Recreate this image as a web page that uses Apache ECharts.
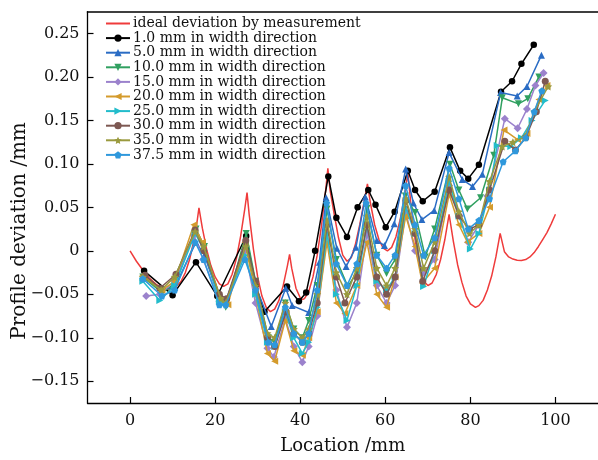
<!DOCTYPE html>
<html>
<head>
<meta charset="utf-8">
<script src="https://cdn.jsdelivr.net/npm/echarts@6/dist/echarts.min.js"></script>
<style>
  html, body { margin: 0; padding: 0; background: #fff; }
  #chart { width: 598px; height: 460px; }
</style>
</head>
<body>
<div id="chart"></div>
<script>
// Tick positions on both axes
const xTicks = [0, 20, 40, 60, 80, 100];
const yTicks = [-0.15, -0.10, -0.05, 0, 0.05, 0.10, 0.15, 0.20, 0.25];

// Ideal deviation curve (location mm, deviation mm)
const idealCurve = [
  [0, 0.000], [1.5, -0.012], [3, -0.022], [4.5, -0.031], [6, -0.038], [7.5, -0.043], [9, -0.045],
  [10.5, -0.043], [12, -0.035], [13, -0.025], [14, -0.010], [15, 0.012], [15.6, 0.028], [16.2, 0.0495],
  [17, 0.026], [18, 0.002], [19, -0.017], [20, -0.030], [21, -0.038], [22, -0.041], [23, -0.038],
  [24, -0.027], [25, -0.009], [26, 0.017], [27, 0.049], [27.5, 0.067],
  [28, 0.042], [29, 0.002], [30, -0.030], [31, -0.052], [32, -0.065], [33, -0.070], [34, -0.067],
  [35, -0.057], [36, -0.040], [37, -0.017], [37.5, -0.004],
  [38, -0.020], [39, -0.043], [40, -0.054], [40.5, -0.056], [41, -0.055], [42, -0.047], [43, -0.030],
  [44, -0.005], [45, 0.029], [46, 0.070], [46.5, 0.095],
  [47, 0.070], [48, 0.042], [49, 0.015], [50, -0.005], [51, -0.012], [52, -0.008], [53, 0.008],
  [54, 0.030], [55, 0.056], [55.8, 0.077],
  [56.5, 0.055], [57.5, 0.030], [58.5, 0.013], [59.5, 0.003], [60.5, 0.000], [61.5, 0.004],
  [62.5, 0.016], [63.5, 0.036], [64.5, 0.062], [65.3, 0.090],
  [66, 0.054], [67, 0.013], [68, -0.016], [69, -0.034], [70, -0.040], [71, -0.037], [72, -0.027],
  [73, -0.010], [74, 0.013], [75, 0.042],
  [76, 0.011], [77, -0.016], [78, -0.036], [79, -0.052], [80, -0.061], [81.2, -0.065],
  [82, -0.063], [83, -0.057], [84, -0.045], [85, -0.029], [86, -0.007], [87, 0.020],
  [88, -0.001], [89, -0.007], [90, -0.0095], [91, -0.0108], [92, -0.011], [93, -0.010], [94, -0.007],
  [95, -0.002], [96, 0.005], [97, 0.013], [98, 0.021], [99, 0.031], [100, 0.042]
];

// Measured profile deviation at each width position
const w1_0 = [
  [3.3, -0.023], [10, -0.051], [15.5, -0.013], [20.5, -0.052], [27.3, 0.017], [29.5, -0.040],
  [31.6, -0.070], [36.9, -0.041], [39.7, -0.058], [41.4, -0.048], [43.5, 0.000], [46.6, 0.0855],
  [48.5, 0.038], [51, 0.016], [53.5, 0.050], [56, 0.070], [57.7, 0.053], [60.1, 0.027], [62.2, 0.045],
  [65.3, 0.092], [67, 0.070], [68.8, 0.057], [71.6, 0.068], [75.2, 0.119], [77.6, 0.092], [79.5, 0.083],
  [82, 0.099], [87.2, 0.183], [89.8, 0.195], [92, 0.215], [94.9, 0.237]
];
const w5_0 = [
  [3, -0.030], [7.5, -0.045], [10.5, -0.042], [15.5, 0.010], [17.5, -0.005], [21, -0.055], [22.5, -0.058],
  [27.3, 0.008], [29.5, -0.040], [33.2, -0.087], [36.6, -0.043], [38.1, -0.063], [42, -0.071], [44.5, -0.013],
  [46.1, 0.061], [48.6, 0.003], [50.8, -0.018], [53.1, 0.004], [55.3, 0.062], [58, 0.012], [59.8, 0.006],
  [62.1, 0.031], [64.8, 0.094], [66.6, 0.055], [68.6, 0.036], [71.5, 0.0465], [75, 0.113], [78.1, 0.082],
  [80.5, 0.074], [82.8, 0.088], [87.1, 0.182], [91, 0.178], [93.3, 0.189], [96.7, 0.225]
];
const w10_0 = [
  [3, -0.030], [7.5, -0.048], [10.5, -0.038], [15.5, 0.025], [17.5, 0.005], [21, -0.055], [22.5, -0.065],
  [27.3, 0.020], [29.5, -0.035], [32.5, -0.100], [34, -0.105], [36.5, -0.060], [38.5, -0.090], [40.5, -0.100],
  [42, -0.080], [44, -0.040], [46.3, 0.048], [48.5, -0.010], [51.2, -0.041], [53.3, -0.025], [55.7, 0.049],
  [58, -0.005], [60.3, -0.026], [62.3, -0.010], [64.7, 0.063], [67, 0.044], [69.4, -0.007], [71.6, 0.025],
  [75.2, 0.0995], [77.3, 0.070], [79.3, 0.048], [82.4, 0.061], [85.5, 0.110], [87.5, 0.176], [91.3, 0.169],
  [93.5, 0.175], [96.1, 0.200]
];
const w15_0 = [
  [3.8, -0.052], [7, -0.050], [10.5, -0.035], [15, 0.018], [17.2, -0.010], [21, -0.058], [22.5, -0.062],
  [27, 0.000], [29.5, -0.060], [32.3, -0.112], [33.8, -0.122], [36.5, -0.078], [38.5, -0.110], [40.5, -0.128],
  [42, -0.110], [44, -0.075], [46.3, 0.020], [48.5, -0.045], [51, -0.088], [53.3, -0.060], [55.7, 0.020],
  [58, -0.040], [60.3, -0.060], [62.3, -0.040], [64.8, 0.045], [67, 0.000], [69, -0.025], [71.6, -0.010],
  [75, 0.075], [77.5, 0.040], [79.5, 0.010], [82, 0.030], [84, 0.063], [88.1, 0.152], [91.1, 0.141],
  [93.3, 0.163], [95.3, 0.190], [97.2, 0.2045]
];
const w20_0 = [
  [3, -0.028], [7.5, -0.045], [10.5, -0.035], [15, 0.030], [17, 0.010], [21, -0.055], [23, -0.062],
  [27, 0.010], [29.5, -0.050], [32.3, -0.118], [34, -0.127], [36.5, -0.080], [38.5, -0.115], [40.5, -0.120],
  [42, -0.100], [44, -0.070], [46.3, 0.010], [48.5, -0.060], [50.5, -0.072], [53.3, -0.040], [55.7, 0.010],
  [58, -0.050], [60.3, -0.065], [62.3, -0.030], [64.8, 0.040], [67, 0.005], [68.7, -0.037], [71.6, -0.020],
  [75, 0.065], [77.3, 0.030], [79.3, 0.010], [82, 0.020], [84.5, 0.050], [87.9, 0.139], [91.1, 0.128],
  [93.3, 0.135], [96.1, 0.174], [98, 0.190]
];
const w25_0 = [
  [3, -0.035], [7, -0.057], [10.5, -0.040], [15.3, 0.020], [17.5, 0.000], [21, -0.058], [22.5, -0.060],
  [27, -0.005], [29.5, -0.050], [32.3, -0.105], [34, -0.110], [36.5, -0.070], [38.5, -0.100], [40.5, -0.118],
  [42, -0.105], [44, -0.065], [46.3, 0.020], [48.5, -0.050], [51, -0.080], [53.3, -0.040], [55.7, 0.030],
  [58, -0.035], [60.3, -0.045], [62.3, -0.030], [64.8, 0.050], [67, 0.020], [69, -0.041], [71.6, 0.000],
  [75, 0.080], [77.3, 0.040], [80, 0.002], [82, 0.020], [84.5, 0.070], [86.3, 0.121], [89.5, 0.120],
  [92, 0.130], [94.5, 0.150], [97.6, 0.173]
];
const w30_0 = [
  [3.5, -0.028], [7, -0.043], [10.8, -0.027], [15.3, 0.024], [17.3, 0.000], [21, -0.050], [22.7, -0.055],
  [27.2, 0.012], [29.5, -0.035], [32.3, -0.100], [34, -0.110], [36.7, -0.070], [38.5, -0.095], [40.5, -0.105],
  [42, -0.095], [44, -0.060], [46.3, 0.030], [48.5, -0.030], [50.5, -0.060], [53.3, -0.030], [55.7, 0.030],
  [58, -0.030], [60.3, -0.050], [62.3, -0.030], [64.8, 0.058], [67, 0.020], [68.8, -0.035], [71.6, 0.000],
  [75, 0.070], [77.3, 0.040], [79.8, 0.025], [82, 0.030], [84.5, 0.070], [88.1, 0.126], [90.6, 0.116],
  [93, 0.130], [95.5, 0.160], [97.6, 0.195]
];
const w35_0 = [
  [3, -0.030], [7.3, -0.045], [10.5, -0.030], [15.3, 0.022], [17.3, 0.005], [21.3, -0.055], [22.5, -0.060],
  [27.2, 0.005], [29.5, -0.040], [32.3, -0.095], [34, -0.100], [36.5, -0.060], [38.5, -0.090], [40.5, -0.100],
  [42, -0.090], [44, -0.050], [46.3, 0.035], [48.5, -0.025], [51, -0.050], [53.3, -0.020], [55.7, 0.040],
  [58, -0.020], [60.3, -0.040], [62.3, -0.020], [64.8, 0.060], [67, 0.025], [69, -0.020], [71.6, 0.010],
  [75, 0.085], [77.3, 0.045], [79.8, 0.020], [82, 0.030], [84.5, 0.080], [87.5, 0.120], [90, 0.125],
  [92.8, 0.131], [95, 0.160], [98.3, 0.189]
];
const w37_5 = [
  [3, -0.032], [7.5, -0.052], [10.5, -0.045], [15.3, 0.010], [17.3, -0.010], [21, -0.062], [22.5, -0.062],
  [27, -0.010], [29.5, -0.045], [32.5, -0.105], [34, -0.108], [36.5, -0.065], [38.5, -0.095], [40.5, -0.105],
  [42, -0.095], [44, -0.045], [46.2, 0.055], [48.5, -0.015], [51, -0.040], [53.3, -0.015], [55.5, 0.055],
  [58, -0.005], [60.3, -0.020], [62.3, -0.005], [64.8, 0.075], [67, 0.030], [69, -0.005], [71.6, 0.015],
  [75, 0.095], [77.3, 0.060], [79.5, 0.025], [82, 0.035], [84.5, 0.060], [87.7, 0.1025], [90.6, 0.115],
  [93, 0.130], [95, 0.160], [96.8, 0.184]
];

const seriesNames = [
  'ideal deviation by measurement',
  '1.0 mm in width direction',
  '5.0 mm in width direction',
  '10.0 mm in width direction',
  '15.0 mm in width direction',
  '20.0 mm in width direction',
  '25.0 mm in width direction',
  '30.0 mm in width direction',
  '35.0 mm in width direction',
  '37.5 mm in width direction'
];

const STAR = 'path://M0,-10L2.9,-4L9.5,-3.1L4.7,1.6L5.9,8.1L0,5.1L-5.9,8.1L-4.7,1.6L-9.5,-3.1L-2.9,-4Z';
const PENTAGON = 'path://M0,-10L9.5,-3.1L5.9,8.1L-5.9,8.1L-9.5,-3.1Z';

const measured = [
  { data: w1_0,  color: '#000000', symbol: 'circle',   rotate: 0,   size: 6.5 },
  { data: w5_0,  color: '#2a6cc4', symbol: 'triangle', rotate: 0,   size: 7 },
  { data: w10_0, color: '#30a060', symbol: 'triangle', rotate: 180, size: 7 },
  { data: w15_0, color: '#9b82cc', symbol: 'diamond',  rotate: 0,   size: 8 },
  { data: w20_0, color: '#d49b2c', symbol: 'triangle', rotate: 90,  size: 7 },
  { data: w25_0, color: '#22bccb', symbol: 'triangle', rotate: -90, size: 7 },
  { data: w30_0, color: '#7d5852', symbol: 'circle',   rotate: 0,   size: 7 },
  { data: w35_0, color: '#9a9a3e', symbol: STAR,       rotate: 0,   size: 8 },
  { data: w37_5, color: '#2f98dc', symbol: PENTAGON,   rotate: 0,   size: 7 }
];

const SERIF = '"DejaVu Serif", "Liberation Serif", serif';

const series = [{
  name: seriesNames[0],
  type: 'line',
  data: idealCurve,
  showSymbol: false,
  symbol: 'none',
  lineStyle: { color: '#ef3b3b', width: 1.5 },
  itemStyle: { color: '#ef3b3b' },
  z: 2
}];
measured.forEach((m, i) => {
  series.push({
    name: seriesNames[i + 1],
    type: 'line',
    data: m.data,
    symbol: m.symbol,
    symbolSize: m.size,
    symbolRotate: m.rotate,
    lineStyle: { color: m.color, width: 1.5 },
    itemStyle: { color: m.color },
    z: 3 + i
  });
});

const legendData = seriesNames.map((n, i) =>
  i === 0 ? { name: n, itemStyle: { opacity: 0 } } : { name: n });

const chart = echarts.init(document.getElementById('chart'), null, { renderer: 'canvas' });
chart.setOption({
  animation: false,
  backgroundColor: '#ffffff',
  grid: { left: 87.5, right: -1.5, top: 11.7, bottom: 51.7, containLabel: false },
  legend: {
    left: 105,
    top: 16.5,
    orient: 'vertical',
    itemWidth: 24,
    itemHeight: 9,
    itemGap: 0.6,
    padding: 0,
    data: legendData,
    textStyle: { fontFamily: SERIF, fontSize: 14, lineHeight: 14, color: '#111', padding: [0, 0, 0, -2] }
  },
  xAxis: [{
    type: 'value',
    min: -10,
    max: 110,
    name: 'Location /mm',
    nameLocation: 'middle',
    nameGap: 34,
    nameTextStyle: { fontFamily: SERIF, fontSize: 18, color: '#111' },
    axisLine: { onZero: false, lineStyle: { color: '#000', width: 1.3 } },
    axisTick: { inside: true, length: 6, customValues: xTicks, lineStyle: { color: '#000', width: 1.2 } },
    axisLabel: { customValues: xTicks, fontFamily: SERIF, fontSize: 16, color: '#111', margin: 10 },
    splitLine: { show: false }
  }, {
    type: 'value',
    position: 'top',
    min: -10,
    max: 110,
    axisLine: { show: true, onZero: false, lineStyle: { color: '#000', width: 1.6 } },
    axisTick: { show: false },
    axisLabel: { show: false },
    splitLine: { show: false }
  }],
  yAxis: {
    type: 'value',
    min: -0.175,
    max: 0.275,
    axisLine: { onZero: false, lineStyle: { color: '#000', width: 1.3 } },
    axisTick: { inside: true, length: 6, customValues: yTicks, lineStyle: { color: '#000', width: 1.2 } },
    axisLabel: {
      customValues: yTicks,
      fontFamily: SERIF, fontSize: 16, color: '#111', margin: 8,
      formatter: v => Math.abs(v) < 1e-9 ? '0' : (v < 0 ? '\u2212' : '') + Math.abs(v).toFixed(2)
    },
    splitLine: { show: false }
  },
  graphic: [{
    type: 'text',
    rotation: Math.PI / 2,
    x: 20,
    y: 231,
    style: {
      text: 'Profile deviation /mm',
      font: '20px ' + SERIF,
      fill: '#111',
      textAlign: 'center',
      textVerticalAlign: 'middle'
    }
  }],
  series: series
});
</script>
</body>
</html>
